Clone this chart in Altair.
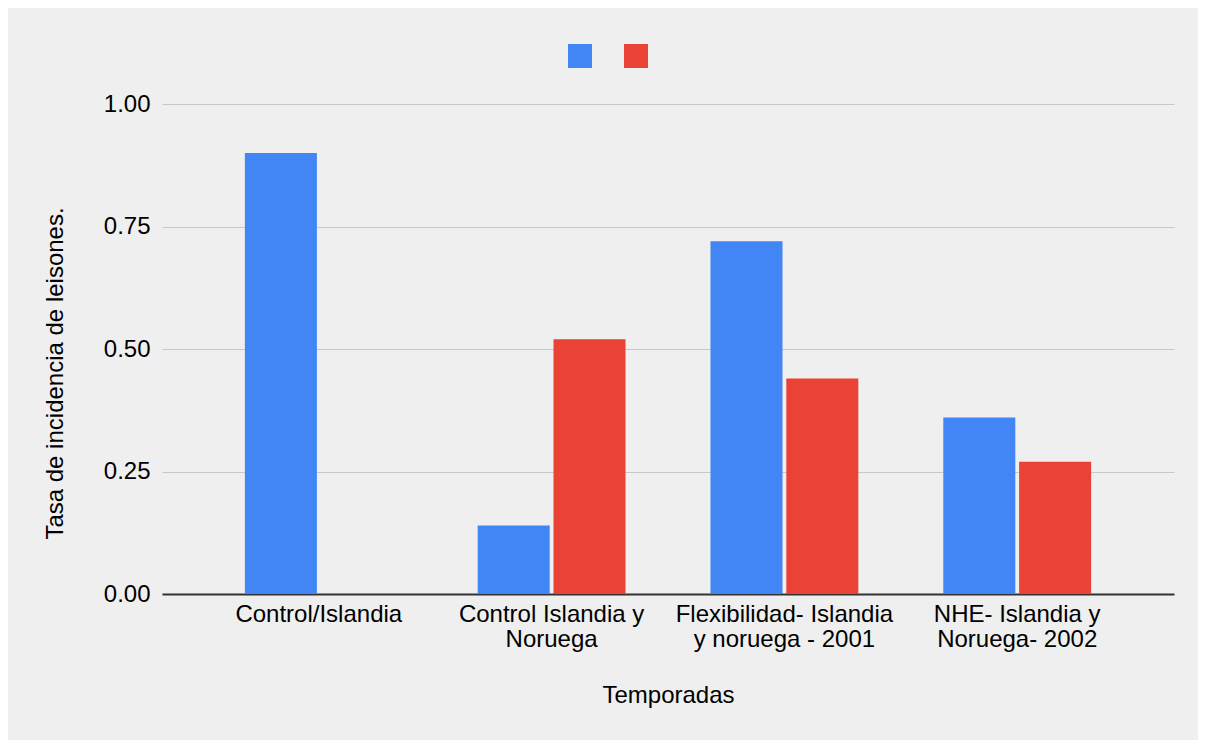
import altair as alt
import pandas as pd

categories = ["Control/Islandia", "Control Islandia y\nNoruega",
              "Flexibilidad- Islandia\ny noruega - 2001", "NHE- Islandia y\nNoruega- 2002"]
series = ["Serie 1", "Serie 2"]
values_1 = [0.90, 0.14, 0.72, 0.36]
values_2 = [None, 0.52, 0.44, 0.27]
colors = ["#4285f4", "#ea4335"]

rows = []
for c, a, b in zip(categories, values_1, values_2):
    rows.append({"cat": c, "serie": series[0], "val": a})
    if b is not None:
        rows.append({"cat": c, "serie": series[1], "val": b})
df = pd.DataFrame(rows)

FONT = "Liberation Sans"
FS = 24

chart = alt.Chart(df).mark_bar().encode(
    x=alt.X("cat:N", sort=categories,
            scale=alt.Scale(paddingInner=0.365, paddingOuter=0.356),
            axis=alt.Axis(title="Temporadas", labelAngle=0,
                          labelExpr="split(datum.label, '\\n')",
                          labelFontSize=FS, labelColor="#000", labelFont=FONT,
                          labelPadding=8, labelLineHeight=25, labelLimit=400,
                          titleFontSize=FS, titleFontWeight="normal", titleColor="#000",
                          titleFont=FONT, titlePadding=32,
                          domainColor="#333", domainWidth=2, ticks=False, grid=False)),
    xOffset=alt.XOffset("serie:N", sort=series, scale=alt.Scale(paddingInner=0.05)),
    y=alt.Y("val:Q", scale=alt.Scale(domain=[0, 1]),
            axis=alt.Axis(title="Tasa de incidencia de leisones.",
                          values=[0, 0.25, 0.5, 0.75, 1.0], format=".2f",
                          labelFontSize=FS, labelColor="#000", labelFont=FONT,
                          labelPadding=12, ticks=False, domain=False,
                          gridColor="#c8c8c8", gridWidth=1,
                          titleFontSize=FS, titleFontWeight="normal", titleColor="#000",
                          titleFont=FONT, titlePadding=36, titleY=269)),
    color=alt.Color("serie:N", sort=series,
                    scale=alt.Scale(domain=series, range=colors),
                    legend=alt.Legend(orient="none", legendX=406, legendY=-60,
                                      title=None, labelExpr="''", padding=0,
                                      symbolType="square", symbolSize=576,
                                      symbolStrokeWidth=0, labelOffset=0,
                                      columnPadding=32, direction="horizontal")),
).properties(
    width=1012, height=490,
    padding={"left": 154, "top": 96, "right": 24, "bottom": 146},
    autosize=alt.AutoSizeParams(type="none"),
    background="#efefef",
).configure_view(stroke=None)

chart.save("out.html", embed_options={"renderer": "svg", "actions": False})
